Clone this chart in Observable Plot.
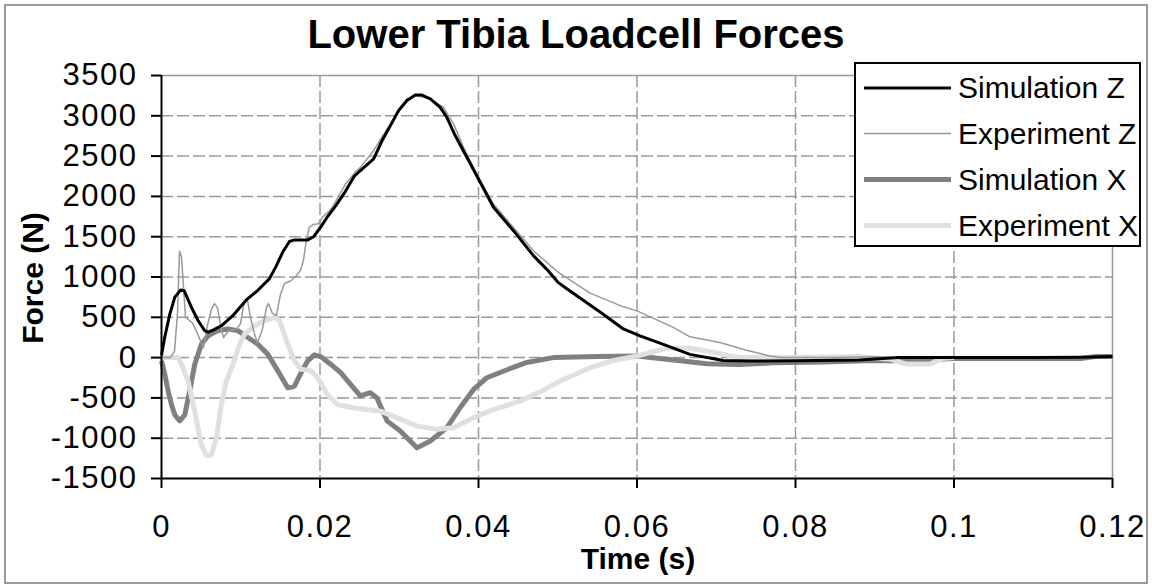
<!DOCTYPE html>
<html><head><meta charset="utf-8">
<script src="https://cdn.jsdelivr.net/npm/d3@7"></script>
<script src="https://cdn.jsdelivr.net/npm/@observablehq/plot@0.6"></script>
<style>body{margin:0;background:#fff} svg{display:block}</style>
</head><body><div id="chart"></div>
<script>
// ---- data: [time (s), force (N)] ----
const simulationZ = [[0,30],[0.0004,250],[0.00105,540],[0.00168,750],[0.00243,840],[0.00285,830],[0.00377,625],[0.00461,460],[0.00545,335],[0.00587,315],[0.0065,340],[0.00755,395],[0.009,520],[0.0107,715],[0.01216,835],[0.01363,980],[0.01447,1135],[0.0153,1310],[0.01614,1440],[0.01677,1460],[0.01845,1460],[0.0192,1500],[0.02013,1625],[0.02096,1750],[0.022,1885],[0.02306,2040],[0.02432,2250],[0.02509,2320],[0.02677,2465],[0.02782,2690],[0.02887,2875],[0.02992,3065],[0.03097,3190],[0.03202,3258],[0.03286,3258],[0.03391,3210],[0.03517,3105],[0.03601,2980],[0.03706,2755],[0.03853,2485],[0.04,2215],[0.04189,1865],[0.04315,1720],[0.04441,1575],[0.04693,1265],[0.04862,1095],[0.05008,930],[0.05114,855],[0.05534,565],[0.05828,355],[0.06038,270],[0.06332,165],[0.06668,40],[0.07088,-35],[0.07425,-42],[0.08,-40],[0.088,-30],[0.093,0],[0.1,0],[0.11,0],[0.116,5],[0.12,15]];
const experimentZ = [[0,0],[0.00113,0],[0.00164,80],[0.00202,550],[0.00227,1320],[0.00252,1250],[0.00277,880],[0.00303,500],[0.0034,470],[0.00391,430],[0.00441,330],[0.00492,210],[0.00529,120],[0.0058,400],[0.0063,600],[0.00668,670],[0.00706,620],[0.00744,400],[0.00782,250],[0.00845,330],[0.00945,350],[0.00996,420],[0.01046,700],[0.01084,720],[0.01122,500],[0.01172,300],[0.0121,180],[0.01273,350],[0.01324,620],[0.01349,670],[0.01399,550],[0.0145,520],[0.015,780],[0.01551,920],[0.01626,950],[0.01689,1000],[0.01752,1080],[0.0179,1200],[0.01828,1460],[0.01866,1620],[0.01916,1650],[0.01979,1660],[0.0203,1740],[0.0213,1830],[0.02206,1950],[0.02319,2150],[0.02445,2300],[0.02509,2360],[0.02677,2570],[0.02887,2900],[0.03097,3210],[0.03223,3250],[0.03391,3210],[0.03559,3105],[0.03685,2900],[0.03811,2610],[0.04,2235],[0.04189,1905],[0.04441,1615],[0.04693,1325],[0.05008,1056],[0.05408,800],[0.05828,630],[0.06,580],[0.06458,375],[0.06668,258],[0.07046,188],[0.07383,92],[0.07677,21],[0.078,0],[0.085,0],[0.09,10],[0.095,-10],[0.1,0]];
const simulationX = [[0,-40],[0.00042,-210],[0.00084,-415],[0.00126,-585],[0.00168,-710],[0.00231,-785],[0.00294,-710],[0.00356,-415],[0.00419,-85],[0.00503,165],[0.00587,270],[0.00713,335],[0.00839,355],[0.00964,335],[0.0109,250],[0.01216,165],[0.01342,40],[0.01468,-165],[0.01593,-375],[0.01677,-355],[0.01761,-190],[0.01845,-40],[0.01929,35],[0.02013,10],[0.02138,-85],[0.02264,-190],[0.02383,-330],[0.02509,-475],[0.02635,-435],[0.02719,-500],[0.02845,-785],[0.03013,-910],[0.03223,-1120],[0.03391,-1035],[0.03601,-870],[0.03769,-620],[0.03937,-395],[0.04105,-250],[0.0448,-105],[0.0461,-60],[0.04945,0],[0.055,15],[0.06,20],[0.0646,-30],[0.0688,-75],[0.073,-85],[0.0772,-65],[0.0835,-55],[0.0898,-35],[0.094,-40],[0.1,-10],[0.11,-10],[0.116,-10],[0.118,15],[0.12,15]];
const experimentX = [[0,0],[0.0021,0],[0.00273,-125],[0.00335,-290],[0.00419,-665],[0.00503,-1085],[0.00566,-1210],[0.00629,-1210],[0.00692,-1000],[0.00755,-585],[0.00818,-290],[0.00901,-85],[0.00985,165],[0.01048,290],[0.01174,395],[0.013,460],[0.01426,500],[0.01488,460],[0.01593,165],[0.01677,-40],[0.01761,-145],[0.01887,-165],[0.01971,-250],[0.02096,-460],[0.02222,-585],[0.02432,-625],[0.02761,-665],[0.02971,-745],[0.03223,-850],[0.03475,-890],[0.03685,-870],[0.03937,-745],[0.04189,-645],[0.04525,-540],[0.04777,-425],[0.0503,-290],[0.0541,-125],[0.0569,-40],[0.06,20],[0.0637,115],[0.0667,115],[0.0695,70],[0.073,0],[0.08,0],[0.088,15],[0.092,-20],[0.094,-80],[0.097,-80],[0.0985,-10],[0.1,0]];

const seriesNames = ["Simulation Z", "Experiment Z", "Simulation X", "Experiment X"];
const seriesData = [simulationZ, experimentZ, simulationX, experimentX];
const seriesColors = ["#000000", "#999999", "#808080", "#e0e0e0"];
const seriesWidths = [3, 1.5, 5, 5];
const drawOrder = [2, 3, 1, 0];

const xTicks = [0, 0.02, 0.04, 0.06, 0.08, 0.1, 0.12];
const xTickLabels = ["0", "0.02", "0.04", "0.06", "0.08", "0.1", "0.12"];
const yTicks = [-1500, -1000, -500, 0, 500, 1000, 1500, 2000, 2500, 3000, 3500];

const titleText = "Lower Tibia Loadcell Forces";
const xLabel = "Time (s)";
const yLabel = "Force (N)";

const font = "'Liberation Sans', Arial, Helvetica, sans-serif";
const grid = "#999999";

const lineMarks = drawOrder.map(i =>
  Plot.line(seriesData[i].map(([t, f]) => ({t, f})), {
    x: "t", y: "f", stroke: seriesColors[i], strokeWidth: seriesWidths[i],
    strokeLinejoin: "round", strokeLinecap: "butt"
  })
);

const plot = Plot.plot({
  width: 1152, height: 588,
  marginLeft: 161, marginRight: 40, marginTop: 75, marginBottom: 110,
  style: {fontFamily: font, background: "#ffffff", color: "#000"},
  x: {domain: [0, 0.12]},
  y: {domain: [-1500, 3500]},
  marks: [
    Plot.ruleY(yTicks.filter(v => v > -1500 && v < 3500), {stroke: grid, strokeWidth: 1.5, strokeDasharray: "12,4"}),
    Plot.ruleX(xTicks.filter(v => v > 0 && v < 0.12), {stroke: grid, strokeWidth: 1.5, strokeDasharray: "12,4"}),
    Plot.ruleY([3500], {stroke: grid, strokeWidth: 1.5}),
    Plot.ruleX([0.12], {stroke: grid, strokeWidth: 1.5}),
    ...lineMarks,
    Plot.axisY({ticks: yTicks, tickSize: 10, tickPadding: 14, fontSize: 31, label: null, stroke: "#000", strokeWidth: 2, tickFormat: d => String(d)}),
    Plot.axisX({ticks: xTicks, tickSize: 10, tickPadding: 26, fontSize: 31, label: null, stroke: "#000", strokeWidth: 2,
      tickFormat: d => xTickLabels[xTicks.indexOf(d)]}),
    Plot.ruleX([0], {stroke: "#000", strokeWidth: 2}),
    Plot.ruleY([-1500], {stroke: "#000", strokeWidth: 2})
  ]
});

document.getElementById("chart").appendChild(plot);
const svg = d3.select(plot);
// widen tick digits slightly to match the reference
svg.selectAll("g[aria-label='y-axis tick label'] text, g[aria-label='x-axis tick label'] text")
  .style("letter-spacing", "1.5px");

// outer chart border
svg.append("rect").attr("x", 5).attr("y", 5).attr("width", 1142).attr("height", 578)
  .attr("fill", "none").attr("stroke", "#999").attr("stroke-width", 2);

// title
svg.append("text").attr("x", 576).attr("y", 48).attr("text-anchor", "middle")
  .attr("font-family", font).attr("font-weight", "bold").attr("font-size", 40).attr("fill", "#000")
  .text(titleText);

// axis titles
svg.append("text").attr("x", 638).attr("y", 569).attr("text-anchor", "middle")
  .attr("font-family", font).attr("font-weight", "bold").attr("font-size", 30).attr("fill", "#000")
  .text(xLabel);
svg.append("text").attr("transform", "translate(43,278) rotate(-90)").attr("text-anchor", "middle")
  .attr("font-family", font).attr("font-weight", "bold").attr("font-size", 30).attr("fill", "#000")
  .text(yLabel);

// legend
const lg = svg.append("g");
lg.append("rect").attr("x", 855).attr("y", 63).attr("width", 285).attr("height", 183)
  .attr("fill", "#fff").attr("stroke", "#000").attr("stroke-width", 2);
const rowY = [88, 133.5, 179.5, 225.5];
seriesNames.forEach((name, i) => {
  lg.append("line").attr("x1", 864).attr("x2", 951).attr("y1", rowY[i]).attr("y2", rowY[i])
    .attr("stroke", seriesColors[i]).attr("stroke-width", seriesWidths[i]);
  lg.append("text").attr("x", 958).attr("y", rowY[i] + 10).attr("text-anchor", "start")
    .attr("font-family", font).attr("font-size", 30).attr("fill", "#000").text(name);
});
</script>
</body></html>
